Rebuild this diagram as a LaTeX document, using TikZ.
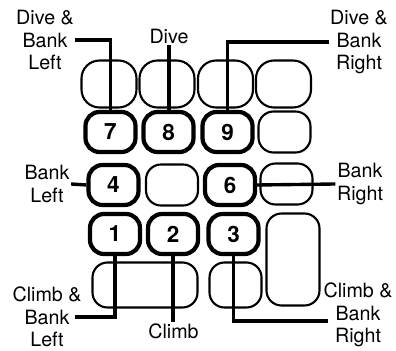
\documentclass[tikz,border=0pt]{standalone}
\usepackage{fontspec}
\setmainfont{TeX Gyre Heros}
\usetikzlibrary{positioning}
\tikzset{
  key/.style={
    draw=black, line width=1.5pt, rounded corners=3.75mm,
    minimum width=13mm, minimum height=10.25mm, inner sep=0pt
  },
  topkey/.style={key, rounded corners=4.5mm, minimum width=13.75mm, minimum height=11.75mm},
  numkey/.style={
    key, line width=3pt, rounded corners=3.5mm, minimum width=12.5mm, minimum height=10mm,
    font=\fontsize{16}{16}\selectfont\bfseries
  },
  lbl/.style={align=center, inner sep=1pt, font=\fontsize{14}{16}\selectfont},
  wire/.style={line width=2.4pt}
}
\begin{document}
\begin{tikzpicture}[x=0.25mm,y=-0.25mm]
    \useasboundingbox[fill=white] (0,0) rectangle (396,351);
    \node[topkey] (t1) at (109,84) {};
    \node[topkey] (t2) at (167,84) {};
    \node[topkey] (t3) at (225.5,84) {};
    \node[topkey] (t4) at (283.5,84) {};
    \node[numkey] (k7) at (110.5,132) {7};
    \node[numkey] (k8) at (168.5,132) {8};
    \node[numkey] (k9) at (227.5,132) {9};
    \node[key] (b2) at (284.5,132) {};
    \node[numkey] (k4) at (113.5,185) {4};
    \node[key] (b3) at (172,185) {};
    \node[numkey] (k6) at (230,185) {6};
    \node[key] (b4) at (286.5,184) {};
    \node[numkey] (k1) at (115,234) {1};
    \node[numkey] (k2) at (173,234) {2};
    \node[numkey] (k3) at (233.5,234) {3};
    \node[key, minimum width=13.25mm, minimum height=23mm] (tall) at (293,259.5) {};
    \node[key, minimum width=26.25mm, minimum height=11.25mm] (wide) at (145,285) {};
    \node[key, minimum height=11.25mm] (small) at (235.5,285) {};
    \node[lbl] (dbl) at (45,40) {Dive \&\\Bank\\Left};
    \node[lbl] (dive) at (169,36) {Dive};
    \node[lbl] (dbr) at (359,42) {Dive \&\\Bank\\Right};
    \node[lbl] (bl) at (47,184) {Bank\\Left};
    \node[lbl] (br) at (360,184) {Bank\\Right};
    \node[lbl] (cbl) at (47,317) {Climb \&\\Bank\\Left};
    \node[lbl] (climb) at (173.5,331) {Climb};
    \node[lbl] (cbr) at (358,315) {Climb \&\\Bank\\Right};
    \draw[wire] (dbl.east) -| (k7.north);
    \draw[wire] (dive.south) -- (dive.south |- k8.north);
    \draw[wire] (dbr.west) -| (k9.north);
    \draw[wire] (bl.east) -- (k4.west);
    \draw[wire] (k6.east) -- (br.west);
    \draw[wire] ([xshift=-2mm]cbl.east) -| (k1.south);
    \draw[wire] (k2.south) -- (k2.south |- climb.north);
    \draw[wire] (k3.south) |- ([xshift=1.5mm,yshift=-1.5mm]cbr.west);
  \end{tikzpicture}
\end{document}
